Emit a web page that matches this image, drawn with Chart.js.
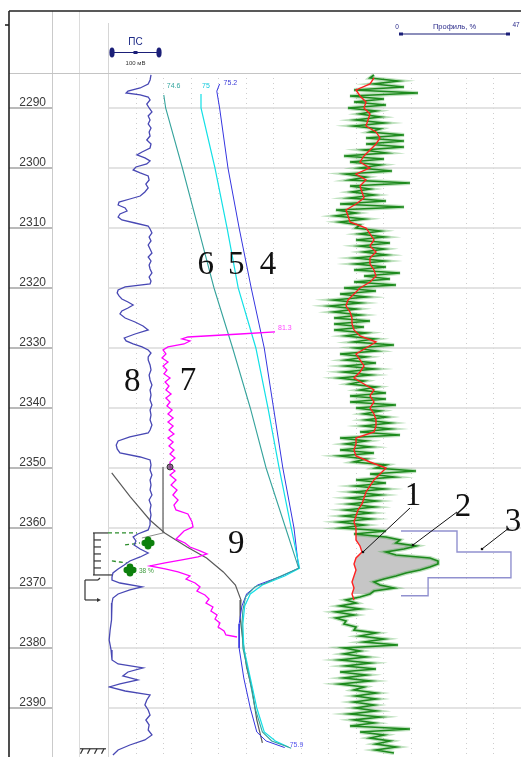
<!DOCTYPE html>
<html>
<head>
<meta charset="utf-8">
<title>Каротаж</title>
<script src="https://cdn.jsdelivr.net/npm/chart.js@4.4.1/dist/chart.umd.min.js"></script>
<style>
html,body{margin:0;padding:0;background:#fff;overflow:hidden}
canvas{display:block}
</style>
</head>
<body>
<canvas id="log" width="521" height="757"></canvas>
<script>
// ---- depth scale ----
const depthTicks = [2290, 2300, 2310, 2320, 2330, 2340, 2350, 2360, 2370, 2380, 2390];
const depthTop = 2284.17, depthBottom = 2398.17;
const gridCols = [1,2,3,4,5,6,7,8,9,10,11,12,13,14];

// ---- ПС, мВ : [depth, value] ----
const psCurve = [
 [2284.5,-17],[2285.33,-19],[2286,-23],[2286.67,-40],[2287.17,-66],[2287.5,-70],[2287.83,-40],[2288.17,-23],
 [2288.67,-19],[2289.33,-26],[2290,-21],[2290.67,-15],[2291.33,-23],[2292,-19],[2292.67,-23],[2293.33,-17],
 [2294,-21],[2294.67,-19],[2295.33,-26],[2296,-17],[2296.67,-19],[2297.33,-36],[2297.83,-47],[2298.33,-30],
 [2298.83,-19],[2299.33,-26],[2299.83,-49],[2300.33,-55],[2300.83,-40],[2301.33,-23],[2302,-21],[2302.67,-28],
 [2303.33,-23],[2304,-30],[2304.67,-40],[2305.17,-62],[2305.67,-85],[2306.17,-87],[2306.67,-72],[2307.17,-68],
 [2307.67,-83],[2308.17,-87],[2308.67,-79],[2309.17,-51],[2309.67,-23],[2310.17,-19],[2310.83,-15],[2311.5,-21],
 [2312.17,-17],[2312.83,-23],[2313.5,-19],[2314.17,-15],[2314.83,-23],[2315.5,-17],[2316.17,-21],[2316.83,-19],
 [2317.5,-15],[2318.17,-21],[2318.83,-17],[2319.33,-19],[2319.83,-72],[2320.33,-87],[2320.83,-89],[2321.33,-85],
 [2321.83,-79],[2322.33,-66],[2322.83,-55],[2323.33,-66],[2323.83,-79],[2324.33,-83],[2325,-72],[2325.67,-51],
 [2326.33,-34],[2327,-23],[2327.67,-51],[2328.33,-74],[2328.83,-70],[2329.33,-55],[2329.83,-36],[2330.33,-23],
 [2330.83,-17],[2331.5,-23],[2332,-23],[2332.83,-19],[2333.67,-17],[2334.5,-21],[2335.33,-19],[2336.17,-15],
 [2337,-19],[2337.83,-17],[2338.67,-19],[2339.5,-15],[2340.33,-19],[2341.17,-17],[2342,-19],[2342.83,-15],
 [2343.67,-19],[2344.17,-23],[2344.83,-62],[2345.5,-87],[2346.17,-91],[2346.83,-89],[2347.5,-83],[2348.17,-40],
 [2348.67,-19],[2349.5,-17],[2350.33,-19],[2351.17,-15],[2352,-19],[2352.83,-17],[2353.67,-19],[2354.5,-15],
 [2355.33,-21],[2356.17,-17],[2357,-19],[2357.83,-17],[2358.67,-19],[2359.5,-19],[2360.33,-23],[2361,-45],
 [2361.5,-55],[2362.17,-49],[2362.83,-53],[2363.5,-40],[2364.17,-23],[2364.83,-40],[2365.5,-62],[2366.17,-74],
 [2366.83,-87],[2367.5,-98],[2368.17,-100],[2368.67,-100],[2369.17,-83],[2369.83,-36],[2370.33,-62],[2371,-87],
 [2371.67,-98],[2372.5,-100],[2373.67,-100],[2375.33,-102],[2377,-104],[2378.67,-106],[2380.33,-102],[2382,-100],
 [2382.67,-87],[2383.33,-34],[2384,-66],[2384.67,-77],[2385.33,-45],[2386,-83],[2386.5,-106],[2387.17,-72],
 [2387.83,-19],[2388.67,-26],[2389.5,-30],[2390.33,-23],[2391.17,-19],[2392,-28],[2392.83,-21],[2393.67,-23],
 [2394.5,-15],[2395.33,-30],[2396.17,-62],[2397,-87],[2397.83,-98]
];

// ---- temperature curves, °C : [depth, value] ----
const tempCurve4 = [
 [2286.0,75.2],[2287.2,75.17],[2290,75.2],[2300,75.29],[2310,75.41],[2320,75.54],[2330,75.68],[2340,75.78],
 [2350,75.88],[2360,76.0],[2366.7,76.05],[2368,75.87],[2369.5,75.61],[2371,75.49],[2373,75.44],[2376,75.41],
 [2380,75.41],[2385,75.46],[2390,75.53],[2394,75.6],[2395.5,75.7],[2396.6,75.9]
];
const tempCurve5 = [
 [2287.67,75.0],[2290,75.0],[2300,75.15],[2310,75.28],[2320,75.4],[2330,75.59],[2340,75.72],[2350,75.84],
 [2360,75.97],[2366.7,76.06],[2368,75.9],[2369.5,75.66],[2371,75.53],[2373,75.47],[2376,75.45],[2380,75.46],
 [2385,75.53],[2390,75.6],[2394,75.68],[2395.5,75.8],[2396.5,75.94]
];
const tempCurve6 = [
 [2287.83,74.6],[2290,74.62],[2300,74.8],[2310,74.97],[2320,75.14],[2330,75.34],[2340,75.53],[2350,75.7],
 [2360,75.91],[2366.7,76.05],[2368.2,75.83],[2369.2,75.69],[2369.8,75.58],[2371.5,75.48],[2373.7,75.45],
 [2376,75.44],[2380,75.45],[2385,75.52],[2390,75.58],[2394,75.66],[2395.5,75.76],[2396.3,75.9],[2396.7,75.97]
];
const tempCurve9 = [
 [2350.83,74.04],[2354.83,74.24],[2358.67,74.45],[2360.83,74.61],[2363.17,74.85],[2365,75.06],[2367.33,75.24],
 [2369.5,75.37],[2372,75.43],[2374.83,75.42],[2378.67,75.45],[2383.17,75.49],[2387,75.55],[2392,75.6],[2395.83,75.66]
];

// ---- curve 7 : [depth, value] ----
const curve7 = [
 [2327.33,81.3],[2327.67,64.3],[2328.17,38.9],[2328.5,36.0],[2328.83,39.9],[2329.33,37.0],[2329.83,29.2],[2330.33,26.8],
 [2331.0,28.2],[2331.67,26.3],[2332.33,29.2],[2333.0,26.8],[2333.67,28.7],[2334.33,27.3],[2335.0,30.2],[2335.67,27.8],
 [2336.33,29.7],[2337.0,28.2],[2337.67,30.7],[2338.33,28.2],[2339.0,30.2],[2339.67,28.7],[2340.33,31.2],[2341.0,29.2],
 [2341.67,31.7],[2342.33,29.2],[2343.0,31.7],[2343.67,29.7],[2344.33,32.1],[2345.0,29.2],[2345.67,31.7],[2346.33,29.7],
 [2347.0,32.1],[2347.67,30.2],[2348.33,32.6],[2349.0,30.2],[2349.83,30.2],[2350.5,32.6],[2351.17,30.2],[2352.0,33.1],
 [2352.83,30.7],[2353.67,33.6],[2354.5,31.6],[2355.33,34.1],[2356.17,32.1],[2357.0,33.1],[2357.67,38.9],[2358.33,39.9],
 [2359.0,40.9],[2359.83,41.4],[2360.5,37.0],[2361.17,35.1],[2361.83,33.1],[2362.5,37.5],[2363.17,39.9],[2363.83,44.8],
 [2364.33,48.2],[2364.83,43.8],[2365.33,36.0],[2365.83,27.8],[2366.33,20.4],[2366.83,27.8],[2367.33,34.1],[2368.0,39.9],
 [2368.5,38.0],[2369.17,42.4],[2369.83,44.8],[2370.5,43.3],[2371.17,47.2],[2371.83,49.2],[2372.5,47.7],[2373.17,51.1],
 [2373.83,50.1],[2374.5,53.1],[2375.17,52.1],[2375.83,54.5],[2376.5,53.6],[2377.17,56.5],[2377.83,57.4],[2378.17,62.8]
];

// ---- curve 2 (green), sampled every 0.5 m from 2284.5 ----
const curve2Start = 2284.5, curve2Step = 0.5;
const curve2 = [
 37,
 35,49, 37,52, 27,59, 25,42, 27,43, 24,38, 30,40, 28,42, 27,40, 35,52,
 33,52, 33,52, 32,43, 22,42, 25,40, 30,46, 23,33, 25,55, 25,35, 26,37,
 25,43, 20,52, 18,28, 18,32, 20,30, 28,40, 30,42, 28,45, 30,42, 32,43,
 28,42, 28,43, 27,50, 32,45, 27,48, 22,38, 20,33, 17,30, 15,28, 17,30,
 17,35, 17,32, 17,33, 23,37, 27,47, 28,38, 20,33, 23,38, 23,37, 22,35,
 20,32, 25,38, 30,43, 25,43, 25,48, 28,40, 32,43, 33,45, 32,45, 30,50,
 20,33, 23,35, 20,37, 20,33, 27,43, 38,58, 35,47, 28,43, 28,42, 27,40,
 25,38, 25,37, 23,35, 22,35, 20,32, 21,43, 27,43, 50,48, 58,52, 43,48,
 65,69, 69,65, 60,53, 48,42, 37,40, 47,37, 35,30, 23,28, 20,30, 18,27,
 18,23, 22,28, 27,38, 30,42, 32,49, 22,30, 22,33, 20,35, 23,38, 20,33,
 22,35, 20,32, 27,38, 28,38, 27,37, 28,38, 25,40, 27,37, 25,55, 30,42,
 35,45, 38,48, 38,47
];
// ---- curve 1 (red), sampled every 1 m from 2285 ----
const curve1Start = 2285, curve1Step = 1;
const curve1 = [
 37,35,28,30,33,32,35,34,33,38,40,38,35,32,30,35,28,33,30,31,
 32,28,23,24,25,33,35,37,35,38,35,35,37,38,35,30,27,24,23,25,
 26,26,27,30,38,33,28,30,32,30,27,32,37,35,37,35,37,38,38,37,
 28,28,27,28,35,43,40,37,35,33,32,31,29,28,27,28,28,28,30,31,
 28,27,28,27,26,27,26,27
];
const inflowZone = [2361, 2371];

// ---- curve 3: profile, % ----
const profileTops = [2360.5, 2364, 2368.3, 2371.3];
const profileValues = [24.6, 48.3, 11.9];
const profileHeader = [0, 47];

// ---- inflow markers ----
const inflowDepths = [2362.5, 2367.0];
const inflowPos = [19.5, 10.7];
const inflowLabels = ['', '38 %'];
const dotMarker = [[2349.83, 30.2]];
const perforation = [2360.83, 2367.83];
const bracketInterval = [2368.67, 2372.0];

// ---- curve numbers ----
const curveNumbers = [
 {t:'1', axis:'xN', v:56.5, d:2354.8}, {t:'2', axis:'xN', v:81.5, d:2356.5}, {t:'3', axis:'xN', v:106.5, d:2359.0},
 {t:'4', axis:'xT', v:75.72, d:2316.2}, {t:'5', axis:'xT', v:75.38, d:2316.2}, {t:'6', axis:'xT', v:75.05, d:2316.2},
 {t:'7', axis:'xM', v:38.9, d:2335.5}, {t:'8', axis:'xPS', v:-57, d:2335.8}, {t:'9', axis:'xT', v:75.38, d:2362.8}
];
const leaders = [[55, 2356.67, 31.5, 2364], [78.5, 2357.33, 56.5, 2362.83], [104.5, 2360, 91, 2363.5]];

// ---- helpers ----
const toXY = pairs => pairs.map(([d, v]) => ({x: v, y: d}));
const sampled = (vals, start, step) => vals.map((v, i) => [start + i * step, v]);
const green = sampled(curve2, curve2Start, curve2Step);
const red = sampled(curve1, curve1Start, curve1Step);
const inZone = p => p[0] >= inflowZone[0] && p[0] <= inflowZone[1];
const zoneShape = green.filter(inZone).concat(red.filter(inZone).reverse());

const profileSteps = [[profileTops[0], 0]];
profileValues.forEach((v, i) => { profileSteps.push([profileTops[i], v], [profileTops[i + 1], v]); });
profileSteps.push([profileTops[profileTops.length - 1], 0]);

const guideGray = [[2349.83, 26.8], [2360.83, 26.8], [2361.67, 16.5]];
const guideGreen = [
  [[2360.83, 0], [2360.83, 14.1]],
  [[2362.83, 8.3], [2362.5, 15.6]],
  [[2365.5, 1.9], [2365.67, 5.8], [2365.83, 9.2]]
];

function clover(color) {
  const c = document.createElement('canvas');
  c.width = c.height = 14;
  const g = c.getContext('2d');
  g.fillStyle = color;
  [[7, 3.8], [7, 10.2], [3.8, 7], [10.2, 7]].forEach(([a, b]) => { g.beginPath(); g.arc(a, b, 3.3, 0, Math.PI * 2); g.fill(); });
  g.fillRect(4, 4, 6, 6);
  return c;
}

function curve(pairs, axis, color, width, order, extra) {
  return Object.assign({
    data: toXY(pairs), xAxisID: axis, yAxisID: 'y', showLine: true,
    borderColor: color, borderWidth: width, pointRadius: 0, fill: false, order: order
  }, extra || {});
}

const datasets = [
  curve(zoneShape, 'xN', 'rgba(0,0,0,0)', 0, 30, {fill: 'shape', backgroundColor: '#c6c6c6'}),
  curve(green, 'xN', 'rgba(70,170,70,0.35)', 4, 7),
  curve(green, 'xN', '#1d8a1d', 1.7, 5),
  curve(red, 'xN', '#ff2020', 1.4, 4),
  curve(profileSteps, 'xP', '#9191cf', 1.4, 6),
  curve(psCurve, 'xPS', '#4848b4', 1.3, 8),
  curve(tempCurve6, 'xT', '#35a39c', 1.1, 9),
  curve(tempCurve5, 'xT', '#12e0e6', 1.2, 9),
  curve(tempCurve4, 'xT', '#3535e0', 1.0, 9),
  curve(tempCurve9, 'xT', '#5a5a5a', 1.2, 9),
  curve(guideGray, 'xM', '#8a8a8a', 1, 10),
  ...guideGreen.map(g => curve(g, 'xM', '#2b8c2b', 1.3, 10, {borderDash: [4, 3]})),
  curve(curve7, 'xM', '#ff00ff', 1.3, 3),
  {data: inflowDepths.map((d, i) => ({x: inflowPos[i], y: d})), xAxisID: 'xM', yAxisID: 'y',
   showLine: false, pointStyle: clover('#0d800d'), pointRadius: 7, order: 1},
  {data: toXY(dotMarker), xAxisID: 'xM', yAxisID: 'y', showLine: false, pointStyle: 'circle',
   pointRadius: 3, backgroundColor: 'rgba(110,70,110,0.75)', borderColor: '#333', borderWidth: 1, order: 1}
];

const curveTags = [
  {pairs: tempCurve6, first: true, axis: 'xT', color: '#33a59e', dx: 3, dy: -9},
  {pairs: tempCurve5, first: true, axis: 'xT', color: '#10c8dc', dx: 1, dy: -8},
  {pairs: tempCurve4, first: true, axis: 'xT', color: '#3a3ad8', dx: 4, dy: -1},
  {pairs: curve7, first: true, axis: 'xM', color: '#ff44ff', dx: 3, dy: -4},
  {pairs: tempCurve4, first: false, axis: 'xT', color: '#5555ee', dx: 5, dy: -3}
];

function seg(ctx, x1, y1, x2, y2) { ctx.beginPath(); ctx.moveTo(x1, y1); ctx.lineTo(x2, y2); ctx.stroke(); }

const decor = {
  id: 'decor',
  beforeDatasetsDraw(chart) {
    const {ctx, chartArea: a, scales: s} = chart;
    ctx.save();
    // dotted vertical grid in the tracks
    ctx.strokeStyle = '#cdcdcd'; ctx.lineWidth = 1; ctx.setLineDash([1, 4]);
    gridCols.forEach(v => { const x = Math.round(s.xGrid.getPixelForValue(v)) + 0.5; seg(ctx, x, a.top, x, a.bottom); });
    ctx.setLineDash([]);
    // column borders
    ctx.lineWidth = 1;
    ctx.strokeStyle = '#cacaca'; seg(ctx, 52.5, 11, 52.5, 757);
    ctx.strokeStyle = '#dcdcdc'; seg(ctx, 79.5, 11, 79.5, 757);
    ctx.strokeStyle = '#d6d6d6'; seg(ctx, a.left + 0.5, 23, a.left + 0.5, 757);
    ctx.strokeStyle = '#c4c4c4'; seg(ctx, 9, 73.5, 521, 73.5);
    // depth lines and labels
    depthTicks.forEach(d => {
      const y = Math.round(s.y.getPixelForValue(d));
      ctx.strokeStyle = '#dadada'; ctx.lineWidth = 1.5; seg(ctx, a.left, y, a.right, y);
      ctx.strokeStyle = '#b9b9b9'; ctx.lineWidth = 2; seg(ctx, 9, y, 52, y);
      ctx.fillStyle = '#3a3a3a'; ctx.font = '12px "Liberation Sans", Arial, sans-serif';
      ctx.textAlign = 'right'; ctx.textBaseline = 'alphabetic';
      ctx.fillText(String(d), 46, y - 2);
    });
    // outer frame
    ctx.strokeStyle = '#222'; ctx.lineWidth = 1.6;
    seg(ctx, 9, 11, 521, 11); seg(ctx, 9, 11, 9, 757);
    seg(ctx, 5, 25, 9, 25);
    ctx.restore();
  },
  afterDatasetsDraw(chart) {
    const {ctx, chartArea: a, scales: s} = chart;
    const Y = d => s.y.getPixelForValue(d);
    ctx.save();
    // header: ПС scale bar, 100 mV
    const p0 = s.xPS.getPixelForValue(-100), p1 = s.xPS.getPixelForValue(0), pc = (p0 + p1) / 2;
    ctx.strokeStyle = '#1b1f78'; ctx.fillStyle = '#1b1f78'; ctx.lineWidth = 1.2;
    seg(ctx, p0, 52.5, p1, 52.5);
    [p0, p1].forEach(x => { ctx.beginPath(); ctx.ellipse(x, 52.5, 2.6, 5, 0, 0, Math.PI * 2); ctx.fill(); });
    ctx.fillRect(pc - 2, 51, 4, 3);
    ctx.textAlign = 'center'; ctx.textBaseline = 'middle';
    ctx.font = '10px "Liberation Sans", Arial, sans-serif'; ctx.fillStyle = '#1d2a86';
    ctx.fillText('ПС', pc, 42);
    ctx.font = '6px "Liberation Sans", Arial, sans-serif'; ctx.fillStyle = '#333';
    ctx.fillText('100 мВ', pc, 63);
    // header: profile scale
    const q0 = s.xP.getPixelForValue(profileHeader[0]), q1 = s.xP.getPixelForValue(profileHeader[1]);
    ctx.strokeStyle = '#1b1f78'; ctx.fillStyle = '#1b1f78'; ctx.lineWidth = 1.2;
    seg(ctx, q0, 34, q1, 34);
    ctx.fillRect(q0 - 2, 32.5, 4, 3); ctx.fillRect(q1 - 2, 32.5, 4, 3);
    ctx.font = '7.5px "Liberation Sans", Arial, sans-serif'; ctx.fillStyle = '#2a2a8a';
    ctx.fillText('Профиль, %', (q0 + q1) / 2, 27);
    ctx.font = '6.5px "Liberation Sans", Arial, sans-serif';
    ctx.fillText(String(profileHeader[0]), q0 - 4, 27);
    ctx.fillText(String(profileHeader[1]), q1 + 8, 25.5);

    // curve value tags
    ctx.font = '7px "Liberation Sans", Arial, sans-serif'; ctx.textAlign = 'left'; ctx.textBaseline = 'middle';
    curveTags.forEach(t => {
      const p = t.first ? t.pairs[0] : t.pairs[t.pairs.length - 1];
      ctx.fillStyle = t.color;
      ctx.fillText(String(p[1]), s[t.axis].getPixelForValue(p[1]) + t.dx, Y(p[0]) + t.dy);
    });
    // inflow marker labels
    ctx.fillStyle = '#3c9a3c'; ctx.font = '6.5px "Liberation Sans", Arial, sans-serif';
    inflowLabels.forEach((t, i) => { if (t) ctx.fillText(t, s.xM.getPixelForValue(inflowPos[i]) + 9, Y(inflowDepths[i]) + 1); });

    // leader lines
    ctx.strokeStyle = '#111'; ctx.lineWidth = 1;
    leaders.forEach(([v1, d1, v2, d2]) => {
      const x2 = s.xN.getPixelForValue(v2), y2 = Y(d2);
      seg(ctx, s.xN.getPixelForValue(v1), Y(d1), x2, y2);
      ctx.fillStyle = '#111'; ctx.beginPath(); ctx.arc(x2, y2, 1.3, 0, Math.PI * 2); ctx.fill();
    });
    // curve numbers
    ctx.fillStyle = '#111'; ctx.font = '33px "Liberation Serif", "Times New Roman", serif';
    ctx.textAlign = 'center'; ctx.textBaseline = 'middle';
    curveNumbers.forEach(n => ctx.fillText(n.t, s[n.axis].getPixelForValue(n.v), Y(n.d)));

    // perforation interval comb
    const L = a.left;
    const yt = Y(perforation[0]), yb = Y(perforation[1]);
    ctx.strokeStyle = '#333'; ctx.lineWidth = 1.2;
    seg(ctx, L - 15, yt, L, yt);
    seg(ctx, L - 14, yt, L - 14, yb);
    seg(ctx, L - 15, yb, L + 4, yb);
    for (let k = 1; k <= 5; k++) { const yy = yt + (yb - yt) * k / 6; seg(ctx, L - 14, yy, L - 7, yy); }
    // bracket below the comb
    const bt = Y(bracketInterval[0]), bb = Y(bracketInterval[1]);
    seg(ctx, L - 23, bt, L - 10, bt); seg(ctx, L - 10, bt, L - 8, bt - 2);
    seg(ctx, L - 23, bt, L - 23, bb); seg(ctx, L - 23, bb, L - 9, bb);
    ctx.fillStyle = '#333'; ctx.beginPath(); ctx.moveTo(L - 7, bb); ctx.lineTo(L - 11, bb - 2); ctx.lineTo(L - 11, bb + 2); ctx.fill();
    // bottom-hole hatch
    const yh = Y(2396.8);
    seg(ctx, L - 28, yh, L - 2, yh);
    for (let k = 0; k < 4; k++) { const x = L - 25 + k * 7; seg(ctx, x, yh, x - 2.5, yh + 5); }
    ctx.restore();
  }
};

new Chart(document.getElementById('log'), {
  type: 'scatter',
  data: {datasets},
  options: {
    responsive: false, animation: false, devicePixelRatio: 1, events: [],
    layout: {autoPadding: false, padding: {left: 108, top: 73, right: 0, bottom: 0}},
    plugins: {legend: {display: false}, tooltip: {enabled: false}},
    elements: {line: {tension: 0}},
    scales: {
      y: {type: 'linear', reverse: true, min: depthTop, max: depthBottom, display: false},
      xPS: {type: 'linear', axis: 'x', min: -108.5, max: 770.22, display: false},
      xT: {type: 'linear', axis: 'x', min: 74.0, max: 78.4409, display: false},
      xM: {type: 'linear', axis: 'x', min: 0, max: 201.07, display: false},
      xN: {type: 'linear', axis: 'x', min: -96, max: 110.5, display: false},
      xP: {type: 'linear', axis: 'x', min: -128.7, max: 52.71, display: false},
      xGrid: {type: 'linear', axis: 'x', min: 0, max: 15, display: false}
    }
  },
  plugins: [decor]
});
</script>
</body>
</html>
